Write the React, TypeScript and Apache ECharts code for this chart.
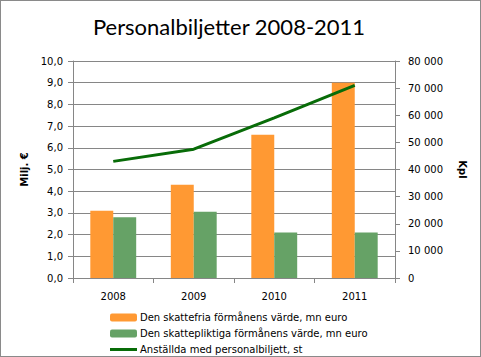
import React, { useEffect, useRef } from "react";
import * as echarts from "echarts";

const categories = ["2008", "2009", "2010", "2011"];
const skattefria = [3.1, 4.3, 6.6, 9.0];
const skattepliktiga = [2.8, 3.05, 2.1, 2.1];
const anstallda = [43000, 47500, 59000, 71000];
const seriesNames = [
  "Den skattefria förmånens värde, mn euro",
  "Den skattepliktiga förmånens värde, mn euro",
  "Anställda med personalbiljett, st",
];
const titleText = "Personalbiljetter 2008-2011";

export default function App() {
  const ref = useRef<HTMLDivElement>(null);
  useEffect(() => {
    const chart = echarts.init(ref.current!, null, { renderer: "svg" });
    const axisFont = { fontFamily: "DejaVu Sans", fontSize: 10, color: "#000" };
    const gridColor = "#868686";
    chart.setOption({
      animation: false,
      backgroundColor: "#fff",
      title: {
        text: titleText,
        left: 223,
        textAlign: "center",
        top: 9,
        textStyle: { fontFamily: "Lato", fontSize: 22, fontWeight: "normal", color: "#000" },
      },
      grid: { left: 72, right: 85, top: 60, bottom: 78 },
      legend: {
        orient: "vertical",
        left: 104,
        top: 306,
        height: 50,
        itemWidth: 27,
        itemHeight: 8,
        itemGap: 5,
        textStyle: {
          fontFamily: "DejaVu Sans",
          fontSize: 10,
          lineHeight: 11,
          color: "#000",
          padding: [0, 0, 0, -2],
        },
        data: [
          { name: seriesNames[0] },
          { name: seriesNames[1] },
          { name: seriesNames[2], icon: "path://M0,0H27V3H0Z" },
        ],
      },
      xAxis: {
        type: "category",
        data: categories,
        axisLine: { lineStyle: { color: gridColor } },
        axisTick: { show: true, length: 5, lineStyle: { color: gridColor } },
        axisLabel: { ...axisFont, margin: 13 },
      },
      yAxis: [
        {
          type: "value",
          min: 0,
          max: 10,
          interval: 1,
          name: "Milj. €",
          nameLocation: "middle",
          nameGap: 43,
          nameRotate: 90,
          nameTextStyle: { fontFamily: "DejaVu Sans", fontSize: 10, fontWeight: "bold", color: "#000" },
          axisLine: { show: true, lineStyle: { color: gridColor } },
          axisTick: { show: true, length: 5, lineStyle: { color: gridColor } },
          axisLabel: {
            ...axisFont,
            margin: 10,
            formatter: (v: number) => v.toFixed(1).replace(".", ","),
          },
          splitLine: { lineStyle: { color: gridColor, width: 1 } },
        },
        {
          type: "value",
          min: 0,
          max: 80000,
          interval: 10000,
          name: "Kpl",
          nameLocation: "middle",
          nameGap: 62,
          nameRotate: -90,
          nameTextStyle: { fontFamily: "DejaVu Sans", fontSize: 10, fontWeight: "bold", color: "#000" },
          axisLine: { show: true, lineStyle: { color: gridColor } },
          axisTick: { show: true, length: 5, lineStyle: { color: gridColor } },
          axisLabel: {
            ...axisFont,
            margin: 13,
            formatter: (v: number) => String(v).replace(/\B(?=(\d{3})+(?!\d))/g, " "),
          },
          splitLine: { show: false },
        },
      ],
      series: [
        {
          name: seriesNames[0],
          type: "bar",
          data: skattefria,
          barGap: "0%",
          barCategoryGap: "43%",
          itemStyle: { color: "#FF9933" },
        },
        {
          name: seriesNames[1],
          type: "bar",
          data: skattepliktiga,
          itemStyle: { color: "#66A266" },
        },
        {
          name: seriesNames[2],
          type: "line",
          yAxisIndex: 1,
          data: anstallda,
          symbol: "none",
          lineStyle: { color: "#086C08", width: 3 },
          itemStyle: { color: "#086C08" },
        },
      ],
    });
    return () => chart.dispose();
  }, []);
  return (
    <div
      ref={ref}
      style={{
        position: "fixed",
        left: 0,
        top: 0,
        width: 481,
        height: 357,
        boxSizing: "border-box",
        border: "1px solid #8a8a8a",
      }}
    />
  );
}
